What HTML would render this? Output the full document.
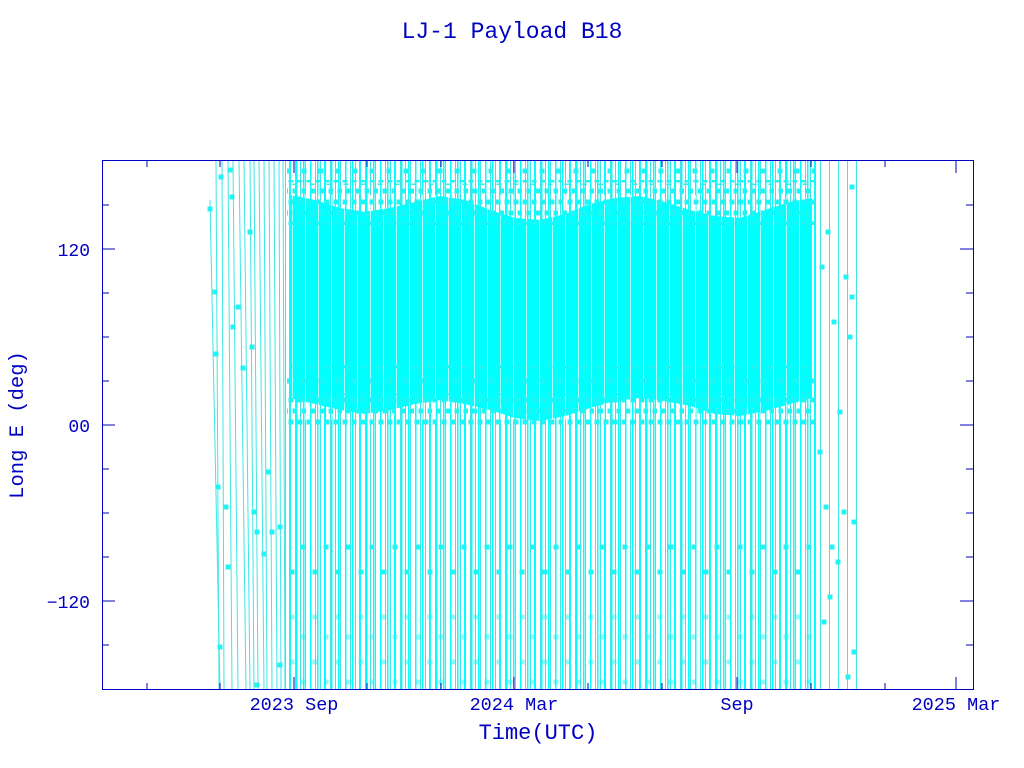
<!DOCTYPE html>
<html><head><meta charset="utf-8"><style>
html,body{margin:0;padding:0;background:#fff;}
svg{display:block;}
text{font-family:"Liberation Mono","DejaVu Sans Mono",monospace;fill:#0000c0;}
</style></head><body>
<svg width="1024" height="768" viewBox="0 0 1024 768" xmlns="http://www.w3.org/2000/svg">
<defs>
<clipPath id="c"><rect x="102" y="160" width="871" height="530"/></clipPath>
<pattern id="p1" x="0" y="0" width="5" height="10" patternUnits="userSpaceOnUse"><rect x="0" y="0" width="1" height="10" fill="#3ee6e6"/></pattern>
<pattern id="p2" x="2" y="0" width="7" height="10" patternUnits="userSpaceOnUse"><rect x="0" y="0" width="1.5" height="10" fill="#00ffff"/></pattern>
<pattern id="p3" x="1" y="0" width="9" height="10" patternUnits="userSpaceOnUse"><rect x="0" y="0" width="1" height="10" fill="#3ee6e6"/></pattern>
<pattern id="gap" x="0" y="0" width="13" height="10" patternUnits="userSpaceOnUse"><rect x="6" y="0" width="1" height="10" fill="#ffffff" opacity="0.7"/></pattern>
<pattern id="sq1" x="0" y="0" width="9" height="22" patternUnits="userSpaceOnUse"><rect x="1" y="2" width="4" height="4" fill="#00ffff" stroke="#40e8e8"/><rect x="5" y="13" width="4" height="4" fill="#00ffff" stroke="#40e8e8"/></pattern>
<pattern id="sq2" x="3" y="0" width="17" height="30" patternUnits="userSpaceOnUse"><rect x="1" y="4" width="4" height="4" fill="#00ffff" stroke="#40e8e8"/><rect x="10" y="19" width="4" height="4" fill="#00ffff" stroke="#40e8e8"/></pattern>
<pattern id="sq3" x="0" y="0" width="23" height="45" patternUnits="userSpaceOnUse"><rect x="2" y="5" width="4" height="4" fill="#00ffff" stroke="#40e8e8"/><rect x="14" y="30" width="4" height="4" fill="#00ffff" stroke="#40e8e8"/></pattern>
</defs>
<g clip-path="url(#c)">
<g stroke="#3ee6e6" stroke-width="1">
<line x1="210" y1="200" x2="220" y2="690"/><line x1="216" y1="160" x2="219" y2="690"/><line x1="222" y1="160" x2="224" y2="690"/>
<line x1="228" y1="160" x2="232" y2="690"/><line x1="233" y1="160" x2="238" y2="690"/><line x1="239" y1="160" x2="246" y2="690"/>
<line x1="244" y1="160" x2="250" y2="690"/><line x1="250" y1="160" x2="254" y2="690"/><line x1="254" y1="160" x2="258" y2="690"/>
<line x1="259" y1="160" x2="264" y2="690"/><line x1="264" y1="160" x2="267" y2="690"/><line x1="269" y1="160" x2="272" y2="690"/>
<line x1="274" y1="160" x2="277" y2="690"/><line x1="279" y1="160" x2="281" y2="690"/><line x1="283" y1="160" x2="285" y2="690"/>
</g>
<rect x="285" y="160" width="533" height="530" fill="url(#p1)"/>
<rect x="285" y="160" width="533" height="530" fill="url(#p2)"/>
<rect x="815" y="160" width="43" height="530" fill="url(#p3)"/>
<polygon fill="#00ffff" points="290,195 315,200 340,208 365,212 390,208 415,202 440,196 465,200 490,210 515,218 540,220 565,214 590,204 615,198 640,196 665,202 690,210 715,216 740,218 765,210 790,202 812,198 812,398 790,404 765,411 740,416 715,414 690,406 665,401 640,398 615,401 590,408 565,416 540,421 515,418 490,410 465,404 440,400 415,404 390,410 365,414 340,410 315,404 290,398"/>
<rect x="285" y="195" width="533" height="225" fill="url(#gap)"/>
<rect x="287" y="180" width="528" height="45" fill="url(#sq1)"/>
<rect x="287" y="392" width="528" height="35" fill="url(#sq1)"/>
<rect x="287" y="160" width="528" height="25" fill="url(#sq2)"/>
<rect x="287" y="365" width="528" height="30" fill="url(#sq2)"/>
<rect x="287" y="530" width="528" height="50" fill="url(#sq3)"/>
<rect x="287" y="600" width="528" height="90" fill="url(#sq3)" opacity="0.5"/>
<g fill="#00ffff" stroke="#40e8e8">
<rect x="208" y="207" width="4" height="4"/><rect x="213" y="290" width="4" height="4"/><rect x="214" y="352" width="4" height="4"/>
<rect x="216" y="485" width="4" height="4"/><rect x="224" y="505" width="4" height="4"/><rect x="226" y="565" width="4" height="4"/>
<rect x="219" y="175" width="4" height="4"/><rect x="228" y="168" width="4" height="4"/><rect x="230" y="195" width="4" height="4"/>
<rect x="231" y="325" width="4" height="4"/><rect x="236" y="305" width="4" height="4"/><rect x="241" y="366" width="4" height="4"/>
<rect x="248" y="230" width="4" height="4"/><rect x="250" y="345" width="4" height="4"/><rect x="252" y="510" width="4" height="4"/>
<rect x="255" y="530" width="4" height="4"/><rect x="262" y="552" width="4" height="4"/><rect x="266" y="470" width="4" height="4"/>
<rect x="270" y="530" width="4" height="4"/><rect x="278" y="525" width="4" height="4"/><rect x="218" y="645" width="4" height="4"/>
<rect x="278" y="663" width="4" height="4"/><rect x="255" y="683" width="4" height="4"/>
<rect x="820" y="265" width="4" height="4"/><rect x="826" y="230" width="4" height="4"/><rect x="832" y="320" width="4" height="4"/>
<rect x="818" y="450" width="4" height="4"/><rect x="824" y="505" width="4" height="4"/><rect x="830" y="545" width="4" height="4"/>
<rect x="836" y="560" width="4" height="4"/><rect x="842" y="510" width="4" height="4"/><rect x="848" y="335" width="4" height="4"/>
<rect x="850" y="185" width="4" height="4"/><rect x="852" y="520" width="4" height="4"/><rect x="846" y="675" width="4" height="4"/>
<rect x="852" y="650" width="4" height="4"/><rect x="828" y="595" width="4" height="4"/><rect x="822" y="620" width="4" height="4"/>
<rect x="838" y="410" width="4" height="4"/><rect x="844" y="275" width="4" height="4"/><rect x="850" y="295" width="4" height="4"/>
</g>
</g>
<g stroke="#0000c0" stroke-width="1" fill="none">
<rect x="102.5" y="160.5" width="871" height="529"/>
<path d="M102 249h13M102 425h13M102 601h13M960 249h13M960 425h13M960 601h13
M102 205h7M102 293h7M102 337h7M102 381h7M102 469h7M102 513h7M102 557h7M102 645h7
M966 205h7M966 293h7M966 337h7M966 381h7M966 469h7M966 513h7M966 557h7M966 645h7
M294 690v-13M514 690v-13M737 690v-13M956 690v-13M294 160v13M514 160v13M737 160v13M956 160v13
M147 690v-7M220 690v-7M367 690v-7M441 690v-7M588 690v-7M662 690v-7M811 690v-7M885 690v-7
M147 160v7M220 160v7M367 160v7M441 160v7M588 160v7M662 160v7M811 160v7M885 160v7"/>
</g>
<text x="512" y="38" font-size="23" text-anchor="middle">LJ-1 Payload B18</text>
<text x="90" y="256" font-size="18" text-anchor="end">120</text>
<text x="90" y="432" font-size="18" text-anchor="end">00</text>
<text x="90" y="608" font-size="18" text-anchor="end">−120</text>
<text x="294" y="710" font-size="18.5" text-anchor="middle">2023 Sep</text>
<text x="514" y="710" font-size="18.5" text-anchor="middle">2024 Mar</text>
<text x="737" y="710" font-size="18.5" text-anchor="middle">Sep</text>
<text x="956" y="710" font-size="18.5" text-anchor="middle">2025 Mar</text>
<text x="538" y="739" font-size="22" text-anchor="middle">Time(UTC)</text>
<text transform="translate(23,425) rotate(-90)" font-size="20.5" text-anchor="middle">Long E (deg)</text>
</svg>
</body></html>
